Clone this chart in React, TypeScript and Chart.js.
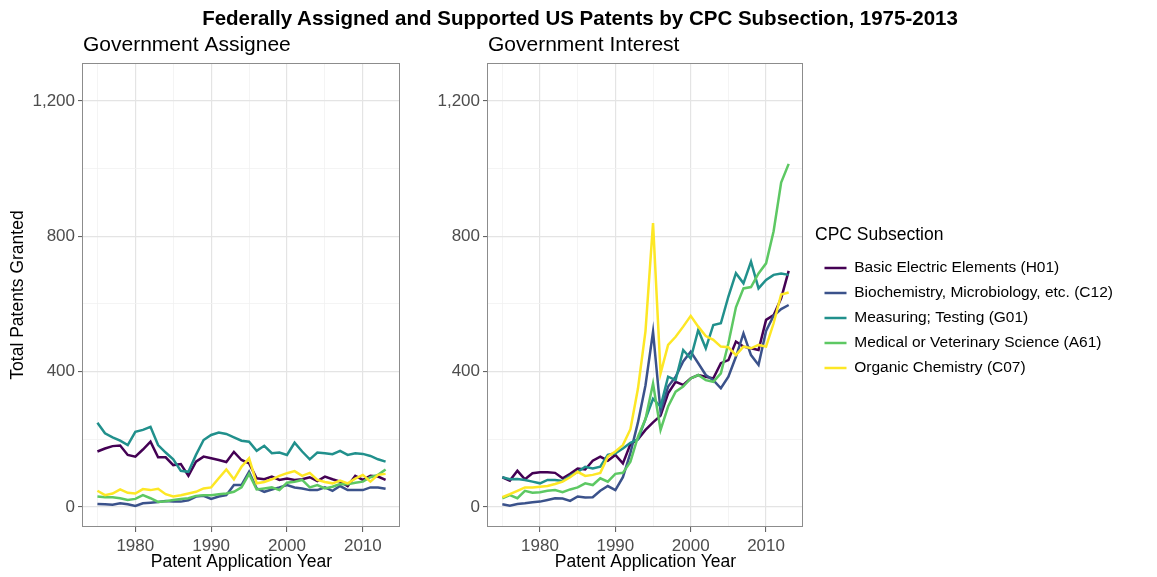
import React, { useEffect, useRef } from "react";
import { Chart, registerables } from "chart.js";

Chart.register(...registerables);

const FONT = '"Liberation Sans", Arial, Helvetica, sans-serif';
Chart.defaults.font.family = FONT;

// ---------------- data ----------------
const years = [
  1975, 1976, 1977, 1978, 1979, 1980, 1981, 1982, 1983, 1984,
  1985, 1986, 1987, 1988, 1989, 1990, 1991, 1992, 1993, 1994,
  1995, 1996, 1997, 1998, 1999, 2000, 2001, 2002, 2003, 2004,
  2005, 2006, 2007, 2008, 2009, 2010, 2011, 2012, 2013,
];

const seriesLabels = [
  "Basic Electric Elements (H01)",
  "Biochemistry, Microbiology, etc. (C12)",
  "Measuring; Testing (G01)",
  "Medical or Veterinary Science (A61)",
  "Organic Chemistry (C07)",
];
const seriesColors = ["#440154", "#3B528B", "#21908C", "#5DC863", "#FDE725"];

// Government Assignee panel
const assigneeH01 = [164, 173, 180, 182, 154, 149, 170, 193, 147, 147, 124, 127, 92, 134, 149, 144, 139, 133, 163, 139, 129, 85, 82, 90, 80, 84, 80, 82, 88, 77, 90, 82, 75, 62, 92, 80, 92, 90, 80];
const assigneeC12 = [9, 8, 7, 11, 8, 3, 11, 13, 15, 18, 16, 16, 20, 31, 33, 24, 31, 35, 65, 65, 104, 55, 45, 52, 58, 65, 58, 55, 50, 50, 58, 48, 62, 50, 50, 50, 58, 58, 54];
const assigneeG01 = [249, 218, 206, 196, 183, 222, 228, 237, 183, 161, 141, 107, 104, 154, 198, 213, 220, 216, 206, 196, 193, 166, 181, 159, 161, 154, 190, 164, 141, 161, 159, 156, 166, 154, 159, 157, 151, 141, 134];
const assigneeA61 = [31, 29, 29, 26, 21, 24, 35, 26, 15, 17, 21, 24, 26, 33, 35, 35, 38, 40, 45, 58, 98, 52, 55, 58, 50, 72, 75, 80, 58, 65, 55, 60, 68, 67, 72, 75, 88, 95, 111];
const assigneeC07 = [48, 35, 40, 52, 42, 40, 53, 50, 54, 38, 31, 35, 40, 45, 55, 58, 85, 111, 82, 119, 144, 70, 74, 82, 92, 100, 106, 92, 101, 80, 74, 70, 78, 70, 84, 95, 75, 95, 98];

// Government Interest panel
const interestH01 = [88, 78, 107, 82, 100, 103, 103, 101, 85, 98, 114, 111, 137, 149, 137, 154, 129, 186, 200, 228, 250, 270, 336, 370, 361, 380, 390, 385, 380, 425, 434, 489, 474, 469, 464, 553, 567, 617, 698];
const interestC12 = [8, 4, 9, 11, 14, 16, 21, 26, 25, 18, 31, 28, 29, 48, 62, 50, 88, 160, 250, 360, 518, 282, 356, 385, 430, 459, 425, 390, 375, 351, 385, 444, 513, 449, 420, 520, 565, 585, 597];
const interestG01 = [88, 82, 83, 80, 75, 70, 80, 80, 77, 92, 104, 119, 114, 119, 154, 159, 173, 190, 200, 260, 320, 297, 385, 375, 464, 439, 523, 469, 538, 543, 622, 691, 661, 725, 646, 671, 686, 690, 686];
const interestA61 = [26, 35, 26, 48, 42, 44, 48, 50, 44, 52, 58, 70, 65, 85, 75, 98, 101, 134, 208, 260, 365, 228, 297, 341, 356, 380, 390, 375, 370, 395, 484, 590, 646, 650, 690, 720, 815, 959, 1014];
const interestC07 = [29, 38, 48, 58, 58, 60, 62, 68, 75, 88, 104, 92, 95, 101, 149, 164, 183, 230, 350, 520, 839, 395, 479, 503, 533, 565, 533, 505, 494, 474, 472, 449, 474, 469, 479, 474, 543, 628, 634];

// axis ticks (major ones carry labels, others are minor grid lines)
const yGridValues = [0, 200, 400, 600, 800, 1000, 1200];
const yTickLabelValues = [0, 400, 800, 1200];
const xGridValues = [1975, 1980, 1985, 1990, 1995, 2000, 2005, 2010];
const xTickLabelValues = [1980, 1990, 2000, 2010];

const assigneeSeries = [assigneeH01, assigneeC12, assigneeG01, assigneeA61, assigneeC07];
const interestSeries = [interestH01, interestC12, interestG01, interestA61, interestC07];

// ---------------- helpers ----------------
const W = 1157;
const H = 577;
const MAJOR_GRID = "#e4e4e4";
const MINOR_GRID = "#f1f1f1";
const TICK_COLOR = "#555555";

const framePlugin = {
  id: "panelFrame",
  afterDatasetsDraw(chart: any) {
    const { ctx, chartArea: a } = chart;
    ctx.save();
    ctx.strokeStyle = "#8c8c8c";
    ctx.lineWidth = 1;
    const l = Math.round(a.left) - 0.5;
    const t = Math.round(a.top) + 0.5;
    const r = Math.round(a.right) - 0.5;
    const b = Math.round(a.bottom) - 0.5;
    ctx.strokeRect(l, t, r - l, b - t);
    ctx.restore();
  },
};

const legendShiftPlugin = {
  id: "legendShift",
  afterLayout(chart: any) {
    const lg = chart.legend;
    if (!lg || !lg.options || lg.options.display === false) return;
    const dx = 12;
    const dy = 11;
    lg.left += dx;
    lg.right += dx;
    lg.top += dy;
    lg.bottom += dy;
  },
};

function buildDatasets(series: number[][]) {
  return seriesLabels.map((label, i) => ({
    label,
    data: years.map((yr, j) => ({ x: yr, y: series[i][j] })),
    borderColor: seriesColors[i],
    backgroundColor: seriesColors[i],
    pointBorderColor: seriesColors[i],
    pointBackgroundColor: seriesColors[i],
    pointBorderWidth: 2.5,
    borderWidth: 2.5,
    pointRadius: 0,
    pointHoverRadius: 0,
    tension: 0,
    order: seriesLabels.length - i,
  }));
}

type PanelProps = {
  left: number;
  width: number;
  title: string;
  series: number[][];
  yAxisWidth: number;
  showYTitle: boolean;
  showLegend: boolean;
  padRight: number;
};

function Panel({ left, width, title, series, yAxisWidth, showYTitle, showLegend, padRight }: PanelProps) {
  const ref = useRef<HTMLCanvasElement>(null);

  useEffect(() => {
    const canvas = ref.current;
    if (!canvas) return;
    const isMajorX = (v: number) => xTickLabelValues.includes(v);
    const isMajorY = (v: number) => yTickLabelValues.includes(v);

    const chart = new Chart(canvas, {
      type: "line",
      data: { datasets: buildDatasets(series) as any },
      options: {
        responsive: false,
        animation: false,
        devicePixelRatio: 1,
        events: [],
        layout: { padding: { top: 33, left: 0, right: padRight, bottom: 0 } },
        plugins: {
          title: {
            display: true,
            text: title,
            align: "start",
            fullSize: false,
            color: "#000000",
            font: { family: FONT, size: 21, weight: "normal", lineHeight: 1.2 },
            padding: { top: 0, bottom: 4.8 },
          },
          legend: showLegend
            ? {
                display: true,
                position: "right",
                align: "center",
                fullSize: false,
                maxWidth: 300,
                title: {
                  display: true,
                  text: "CPC Subsection",
                  position: "start",
                  color: "#000000",
                  font: { family: FONT, size: 17.5, weight: "normal", lineHeight: 1.2 },
                  padding: { top: 0, bottom: 3 },
                },
                labels: {
                  usePointStyle: true,
                  pointStyle: "line",
                  pointStyleWidth: 22,
                  color: "#000000",
                  font: { family: FONT, size: 15.5 },
                  padding: 9.5,
                  sort: (a: any, b: any) => a.datasetIndex - b.datasetIndex,
                },
              }
            : { display: false },
          tooltip: { enabled: false },
        },
        scales: {
          x: {
            type: "linear",
            min: 1973.1,
            max: 2014.9,
            afterBuildTicks: (s: any) => {
              s.ticks = xGridValues.map((v) => ({ value: v }));
            },
            afterFit: (s: any) => {
              s.height = 50;
            },
            border: { display: false },
            grid: {
              color: (c: any) => (c.tick && isMajorX(c.tick.value) ? MAJOR_GRID : MINOR_GRID),
              lineWidth: (c: any) => (c.tick && isMajorX(c.tick.value) ? 1.2 : 0.8),
              tickColor: (c: any) => (c.tick && isMajorX(c.tick.value) ? TICK_COLOR : "rgba(0,0,0,0)"),
              tickLength: 5,
              tickWidth: 1,
            },
            ticks: {
              autoSkip: false,
              maxRotation: 0,
              minRotation: 0,
              padding: 4,
              color: "#4d4d4d",
              font: { family: FONT, size: 17 },
              callback: (v: any) => (xTickLabelValues.includes(Number(v)) ? String(v) : ""),
            },
            title: {
              display: true,
              text: "Patent Application Year",
              color: "#000000",
              font: { family: FONT, size: 17.5 },
              padding: { top: 0, bottom: 4 },
            },
          },
          y: {
            type: "linear",
            min: -59,
            max: 1312,
            afterBuildTicks: (s: any) => {
              s.ticks = yGridValues.map((v) => ({ value: v }));
            },
            afterFit: (s: any) => {
              s.width = yAxisWidth;
            },
            border: { display: false },
            grid: {
              color: (c: any) => (c.tick && isMajorY(c.tick.value) ? MAJOR_GRID : MINOR_GRID),
              lineWidth: (c: any) => (c.tick && isMajorY(c.tick.value) ? 1.2 : 0.8),
              tickColor: (c: any) => (c.tick && isMajorY(c.tick.value) ? TICK_COLOR : "rgba(0,0,0,0)"),
              tickLength: 5,
              tickWidth: 1,
            },
            ticks: {
              autoSkip: false,
              padding: 3,
              color: "#4d4d4d",
              font: { family: FONT, size: 17 },
              callback: (v: any) =>
                yTickLabelValues.includes(Number(v)) ? Number(v).toLocaleString("en-US") : "",
            },
            title: {
              display: showYTitle,
              text: "Total Patents Granted",
              color: "#000000",
              font: { family: FONT, size: 17.5 },
              padding: { top: 8, bottom: 0 },
            },
          },
        },
      } as any,
      plugins: [framePlugin, legendShiftPlugin],
    });

    return () => {
      chart.destroy();
    };
  }, []);

  return (
    <canvas
      ref={ref}
      width={width}
      height={H}
      style={{ position: "absolute", left, top: 0, width, height: H, display: "block" }}
    />
  );
}

export default function App() {
  return (
    <div
      style={{
        position: "absolute",
        left: 0,
        top: 0,
        width: W,
        height: H,
        background: "#ffffff",
        overflow: "hidden",
      }}
    >
      <Panel
        left={0}
        width={420}
        title="Government Assignee"
        series={assigneeSeries}
        yAxisWidth={83}
        showYTitle={true}
        showLegend={false}
        padRight={20}
      />
      <Panel
        left={420}
        width={W - 420}
        title="Government Interest"
        series={interestSeries}
        yAxisWidth={68}
        showYTitle={false}
        showLegend={true}
        padRight={54}
      />
      <div
        style={{
          position: "absolute",
          left: 3,
          top: 8,
          width: 1154,
          height: 20,
          lineHeight: "20px",
          textAlign: "center",
          fontFamily: FONT,
          fontWeight: "bold",
          fontSize: 20.5,
          color: "#000000",
          whiteSpace: "nowrap",
          zIndex: 2,
        }}
      >
        Federally Assigned and Supported US Patents by CPC Subsection, 1975-2013
      </div>
    </div>
  );
}
